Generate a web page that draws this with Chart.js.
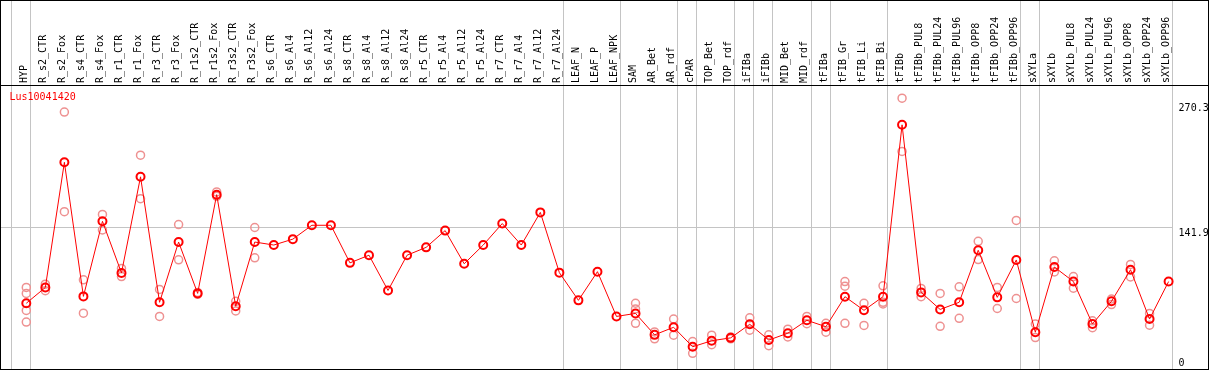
<!DOCTYPE html>
<html>
<head>
<meta charset="utf-8">
<script src="https://cdn.jsdelivr.net/npm/chart.js@4"></script>
<style>
  body { margin: 0; background: #fff; }
  canvas { display: block; }
</style>
</head>
<body>
<canvas id="expr" width="1209" height="370"></canvas>
<script>
const geneName = 'Lus10041420';

const samples = ['HYP', 'R_s2_CTR', 'R_s2_Fox', 'R_s4_CTR', 'R_s4_Fox', 'R_r1_CTR', 'R_r1_Fox',
    'R_r3_CTR', 'R_r3_Fox', 'R_r1s2_CTR', 'R_r1s2_Fox', 'R_r3s2_CTR', 'R_r3s2_Fox',
    'R_s6_CTR', 'R_s6_Al4', 'R_s6_Al12', 'R_s6_Al24', 'R_s8_CTR', 'R_s8_Al4', 'R_s8_Al12', 'R_s8_Al24',
    'R_r5_CTR', 'R_r5_Al4', 'R_r5_Al12', 'R_r5_Al24', 'R_r7_CTR', 'R_r7_Al4', 'R_r7_Al12', 'R_r7_Al24',
    'LEAF_N', 'LEAF_P', 'LEAF_NPK', 'SAM', 'AR_Bet', 'AR_rdf', 'cPAR', 'TOP_Bet', 'TOP_rdf',
    'iFIBa', 'iFIBb', 'MID_Bet', 'MID_rdf', 'tFIBa', 'tFIB_Gr', 'tFIB_Li', 'tFIB_Bi',
    'tFIBb', 'tFIBb_PUL8', 'tFIBb_PUL24', 'tFIBb_PUL96', 'tFIBb_OPP8', 'tFIBb_OPP24', 'tFIBb_OPP96',
    'sXYLa', 'sXYLb', 'sXYLb_PUL8', 'sXYLb_PUL24', 'sXYLb_PUL96', 'sXYLb_OPP8', 'sXYLb_OPP24', 'sXYLb_OPP96'];

// mean expression per sample
const meanValues = [62.7, 79, 208.2, 69.8, 147.3, 94, 193.2, 63.7, 125.9, 72.9, 174.8, 59.6, 125.9,
    122.8, 128.9, 143.2, 143.2, 104.4, 112.3, 75.9, 112.3,
    120.4, 137.7, 103.5, 122.8, 145, 122.8, 156.5, 94.3,
    65.7, 95.3, 49.1, 52.2, 30.1, 37.9, 17.8, 24, 27,
    41, 24.7, 31.8, 45.1, 38.5, 69.5, 55.4, 69.5,
    246.9, 73.9, 56.3, 63.7, 117.4, 68.8, 107.4,
    32.8, 100.1, 85.1, 41.3, 64.7, 97.3, 46.4, 85.1];

// replicates (null = none shown)
const rep1 = [79, 82.4, 260.1, 86.9, 154.4, 98.7, 215.6, 77, 143.9, 73.9, 177.6, 64.7, 140.9,
    null, null, null, null, null, null, null, null,
    null, null, null, null, null, null, null, null,
    null, null, null, 62.7, 33.1, 46.4, 23.2, 29.8, 28,
    47.7, 30.1, 35.9, 49.1, 42, 85.1, 62.7, 80.7,
    274.4, 78, 72.9, 79.7, 126.6, 79, 148.2,
    41.3, 106.5, 90.2, 44.6, 67.1, 102.8, 52.2, null];
const rep2 = [72.9, 75.6, 157.2, 52.5, 138.4, 90.2, 170.7, 49.1, 107.5, 71.9, 173.1, 54.8, 109.6,
    null, null, null, null, null, null, null, null,
    null, null, null, null, null, null, null, null,
    null, null, null, 56.9, 26, 29.8, 11, 19.9, 26,
    34.9, 18.9, 28, 41.6, 32.8, 80.3, 39.8, 63.7,
    219.4, 69.5, 38.9, 47.1, 107.8, 57.3, 67.6,
    27.3, 95, 78.3, 37.5, 61.4, 89.9, 40, null];
const rep3 = [55.3, null, null, null, null, null, null, null, null, null, null, null, null,
    null, null, null, null, null, null, null, null,
    null, null, null, null, null, null, null, null,
    null, null, null, 42, null, null, null, null, null,
    null, null, null, null, null, 42, null, 62,
    null, null, null, null, null, null, null,
    null, null, null, null, null, null, null, null];
const rep4 = [43.3, null, null, null, null, null, null, null, null, null, null, null, null,
    null, null, null, null, null, null, null, null,
    null, null, null, null, null, null, null, null,
    null, null, null, null, null, null, null, null, null,
    null, null, null, null, null, null, null, null,
    null, null, null, null, null, null, null,
    null, null, null, null, null, null, null, null];

const yTicks = [0, 141.9, 270.3];
const midLine = 141.9;
// index of last sample in each group (-1 = left edge)
const groupEnds = [-1, 0, 28, 31, 34, 35, 37, 38, 39, 41, 42, 45, 52, 53, 60];

const monoFont = 'DejaVu Sans Mono';
const paleRed = 'rgb(238,145,145)';

function repSet(values) {
    return {
        label: 'rep',
        data: values,
        showLine: false,
        pointRadius: 4,
        pointBorderWidth: 1.5,
        pointBorderColor: paleRed,
        pointBackgroundColor: 'rgba(0,0,0,0)',
        clip: false
    };
}

const framePlugin = {
    id: 'frame',
    beforeDatasetsDraw(chart) {
        const ctx = chart.ctx;
        const xs = chart.scales.x;
        const ys = chart.scales.y;
        ctx.save();
        ctx.fillStyle = '#c4c4c4';
        groupEnds.forEach(k => {
            const px = Math.round(xs.getPixelForValue(k) + 3.7);
            ctx.fillRect(px, 0, 1, chart.height);
        });
        const my = Math.round(ys.getPixelForValue(midLine));
        ctx.fillRect(0, my, Math.round(xs.getPixelForValue(60) + 3.7), 1);

        ctx.fillStyle = '#000';
        ctx.fillRect(0, Math.round(chart.chartArea.top), chart.width, 1);
        ctx.fillRect(0, 0, chart.width, 1);
        ctx.fillRect(0, chart.height - 1, chart.width, 1);
        ctx.fillRect(0, 0, 1, chart.height);
        ctx.fillRect(chart.width - 1, 0, 1, chart.height);

        ctx.fillStyle = '#ff0000';
        ctx.font = '10px "' + monoFont + '"';
        ctx.textBaseline = 'middle';
        ctx.textAlign = 'left';
        ctx.fillText(geneName, 9.5, chart.chartArea.top + 12.3);
        ctx.restore();
    }
};

new Chart(document.getElementById('expr'), {
    type: 'line',
    data: {
        labels: samples,
        datasets: [
            {
                label: geneName,
                data: meanValues,
                borderColor: '#ff0000',
                borderWidth: 1,
                pointRadius: 4,
                pointBorderWidth: 2,
                pointBorderColor: '#ff0000',
                pointBackgroundColor: 'rgba(0,0,0,0)',
                tension: 0,
                clip: false
            },
            repSet(rep1),
            repSet(rep2),
            repSet(rep3),
            repSet(rep4)
        ]
    },
    options: {
        responsive: false,
        animation: false,
        devicePixelRatio: 1,
        layout: { padding: { left: 26.3, right: 0, top: 0, bottom: 2 } },
        plugins: {
            legend: { display: false },
            tooltip: { enabled: false }
        },
        scales: {
            x: {
                type: 'category',
                position: 'top',
                offset: false,
                grid: { display: false, drawTicks: false, tickLength: 0 },
                border: { display: false },
                ticks: {
                    autoSkip: false,
                    minRotation: 90,
                    maxRotation: 90,
                    padding: 2,
                    labelOffset: 10,
                    color: '#000',
                    font: { family: monoFont, size: 10 }
                },
                afterFit(scale) {
                    scale.height = 85;
                    scale.paddingLeft = 0;
                    scale.paddingRight = 0;
                }
            },
            y: {
                position: 'right',
                min: 0,
                max: 288,
                grid: { display: false, drawTicks: false, tickLength: 0 },
                border: { display: false },
                afterBuildTicks(scale) {
                    scale.ticks = yTicks.map(v => ({ value: v }));
                },
                afterFit(scale) {
                    scale.width = 40.4;
                    scale.paddingTop = 0;
                    scale.paddingBottom = 0;
                },
                ticks: {
                    padding: 10,
                    labelOffset: 6.5,
                    color: '#000',
                    font: (c) => ({
                        family: monoFont,
                        size: 10,
                        lineHeight: (c.tick && c.tick.value === 0) ? 1.5 : 1.2
                    }),
                    callback: (v) => v === 0 ? ['0', ''] : String(v)
                }
            }
        }
    },
    plugins: [framePlugin]
});
</script>
</body>
</html>
